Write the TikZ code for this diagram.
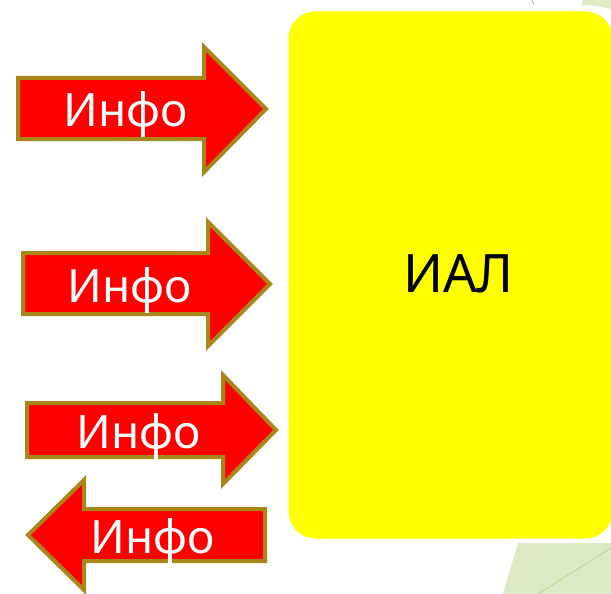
\documentclass[tikz,border=0pt]{standalone}
\usepackage{fontspec}
\setmainfont{Noto Sans}
\definecolor{arrowfill}{RGB}{255,0,0}
\definecolor{arrowline}{RGB}{168,134,26}
\definecolor{panelfill}{RGB}{255,255,0}
\definecolor{leaf}{RGB}{221,234,197}
\definecolor{leafline}{RGB}{196,214,166}
\begin{document}
\begin{tikzpicture}[x=1pt,y=-1pt,
  infoarrow/.style={fill=arrowfill,draw=arrowline,line width=4pt,line join=miter},
  infolabel/.style={text=white,font=\fontsize{46}{46}\selectfont,inner sep=0pt,anchor=base},
  panel/.style={fill=panelfill,draw=white,line width=3pt,rounded corners=28pt}]
\useasboundingbox (0,0) rectangle (611,594);

% background ornaments
\fill[leaf] (518,543) -- (615,543) -- (615,594) -- (503,594) -- cycle;
\draw[leafline,line width=1.2pt] (538,594) -- (611,548);
\fill[leaf] (582,0) -- (611,0) -- (611,9) .. controls (600,6) and (590,5) .. (582,5) -- cycle;
\draw[gray!70,line width=0.8pt] (532,0) -- (534,5);

% main panel
\draw[panel] (287,10) rectangle (614,540);
\node[font=\fontsize{53}{53}\selectfont,inner sep=0pt,anchor=base] (ial) at (458.5,292) {ИАЛ};

% incoming arrows
\draw[infoarrow] (18,78) -- (204,78) -- (204,47) -- (266,109) -- (204,172) -- (204,139) -- (18,139) -- cycle;
\node[infolabel] (info1) at (126,127) {Инфо};

\draw[infoarrow] (23,253) -- (208,253) -- (208,222) -- (270,284) -- (208,346) -- (208,314) -- (23,314) -- cycle;
\node[infolabel] (info2) at (130,302) {Инфо};

\draw[infoarrow] (27,403) -- (223,403) -- (223,375) -- (276,430) -- (223,484) -- (223,457) -- (27,457) -- cycle;
\node[infolabel] (info3) at (138.5,448) {Инфо};

% outgoing arrow
\draw[infoarrow] (265,509) -- (84,509) -- (84,480) -- (28,535) -- (84,590) -- (84,561) -- (265,561) -- cycle;
\node[infolabel] (info4) at (152.5,553) {Инфо};
\end{tikzpicture}
\end{document}
